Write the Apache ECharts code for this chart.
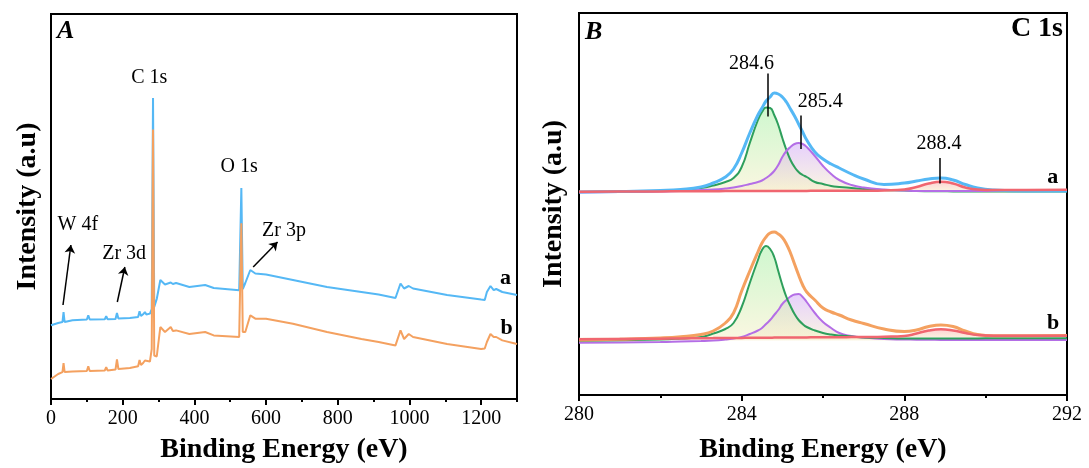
<!DOCTYPE html>
<html>
<head>
<meta charset="utf-8">
<script src="https://cdn.jsdelivr.net/npm/echarts/dist/echarts.min.js"></script>
<style>
  html, body { margin: 0; background: #fff; }
  #chart { width: 1089px; height: 468px; }
</style>
</head>
<body>
<div id="chart"></div>
<script>
// ---- panel A: survey spectra ----
const surveyEnergy = [0, 20, 32, 35, 38, 60, 100, 104, 108, 150, 154, 158, 180, 184, 188,
  220, 243, 247, 251, 257, 262, 266, 276, 281, 284.6, 288, 295, 305, 318, 334, 340, 349,
  386, 430, 454, 525, 531, 535, 542, 556, 570, 600, 675, 770, 866, 914, 961, 975, 985,
  998, 1010, 1105, 1200, 1210, 1216, 1226, 1235, 1242, 1259, 1300];
const surveyA = [73.7, 76, 77, 87, 77, 78.7, 79.5, 83.7, 79.5, 79.7, 82.7, 79.8, 80, 86, 80.5,
  81, 82, 87.7, 83, 84.7, 87, 84.5, 85.4, 90, 301, 92, 100, 119, 114.5, 116.5, 115, 116,
  112, 114, 111, 108.8, 211, 110, 116, 129, 125.5, 124.5, 119, 112, 107, 104.5, 101, 115.5, 110.5,
  113, 110.5, 104, 99.4, 99, 107, 113, 108.8, 110, 107, 104];
const surveyB = [20, 25, 26.8, 35.8, 27, 27.5, 28, 32.8, 28, 28.5, 31.8, 28.5, 29.5, 39.5, 30,
  31, 32.8, 39, 34, 36, 38.5, 36.5, 37.5, 50, 269.5, 43.5, 42.5, 72, 67, 72, 68, 68.6,
  65, 67, 63.6, 62, 175.8, 67, 67, 83.7, 80.3, 80.3, 75.3, 67, 60, 57, 53.6, 68.6, 60,
  65, 62, 55, 50, 50.5, 57, 65, 62, 62, 58.6, 55];

// ---- panel B: C 1s fits ----
const c1sEnergy = [280, 281, 282, 282.5, 283, 283.3, 283.6, 283.8, 284, 284.2, 284.4, 284.5,
  284.6, 284.7, 284.8, 284.9, 285, 285.1, 285.2, 285.3, 285.4, 285.5, 285.6, 285.8, 286,
  286.2, 286.4, 286.7, 287, 287.5, 288, 288.3, 288.6, 288.9, 289.2, 289.5, 289.8, 290.2, 291, 292];
const envA = [203, 203.5, 204.5, 205.5, 208, 212, 218, 226, 242, 262, 280, 287,
  294, 298, 302, 301, 298, 293, 286, 279, 271, 263, 255, 243, 236,
  231, 227, 221, 216, 210.5, 212, 214, 216, 217, 215, 210.5, 207, 205, 204, 204];
const greenA = [203, 203.5, 204, 205, 207, 209.5, 213, 217, 228, 252, 275, 283,
  287.5, 287, 280, 270, 257, 245, 235, 228, 223, 220, 218, 213, 211,
  209, 208, 207, 206, 205, 204.5, 204, 203.8, 203.7, 203.6, 203.5, 203.5, 203.5, 203.5, 203.5];
const purpleA = [202.5, 203, 203.5, 204, 205, 205.5, 206.5, 207.5, 209, 211, 213, 214.5,
  217, 220, 224, 230, 238, 244, 248, 251, 252, 251, 248, 239, 229,
  221, 215, 210, 207.5, 205.5, 204.5, 204, 204, 204, 204, 204, 204, 204, 204, 204];
const redA = [203.3, 203.5, 203.6, 203.7, 203.8, 203.8, 203.9, 203.9, 204, 204, 204, 204,
  204, 204, 204, 204, 204, 204, 204.1, 204.1, 204.1, 204.1, 204.1, 204.2, 204.2,
  204.2, 204.2, 204.2, 204.3, 204.6, 205.5, 208, 211.5, 213.3, 211.5, 207.5, 205.5, 205, 205, 205.2];
const envB = [55, 55.8, 57, 58.2, 60.5, 64, 72, 82, 104, 124, 143, 152,
  158, 162, 163, 161, 157.5, 151, 142, 131, 120, 110, 103, 95, 87,
  83, 80, 75, 71.5, 66, 63.5, 65, 68.5, 70, 68.5, 64, 60.5, 59.3, 59.3, 59.5];
const greenB = [54.3, 54.8, 55.5, 56.5, 58, 61.5, 66, 72, 88, 112, 135, 145,
  149, 146, 138, 124, 110, 98, 89, 81, 75, 71, 68, 64.5, 62,
  60.5, 59.5, 58.5, 57.5, 57, 56.5, 56.5, 56.5, 56.5, 56.6, 56.6, 56.6, 56.7, 56.7, 56.7];
const purpleB = [52.3, 52.6, 53, 53.5, 54, 54.5, 55.5, 56.5, 58, 61, 64.5, 67,
  71, 75, 80, 85, 91, 95, 98.5, 100.5, 101, 98, 93, 82, 73,
  67, 62, 59, 57.5, 56, 55.5, 55.3, 55.2, 55.1, 55, 55, 55, 55, 55, 55];
const redB = [55.7, 56, 56.3, 56.5, 56.8, 56.9, 57, 57, 57.1, 57.2, 57.2, 57.3,
  57.3, 57.3, 57.4, 57.4, 57.4, 57.5, 57.5, 57.5, 57.6, 57.6, 57.6, 57.7, 57.7,
  57.8, 57.8, 57.9, 58, 58.3, 59, 61.5, 64.5, 65.7, 64.5, 62, 60, 59.3, 59.3, 59.3];

const SERIF = '"Liberation Serif", "Times New Roman", serif';
const BLUE = '#55b8f5', ORANGE = '#f4a160';
const GREEN = '#2e9f5c', PURPLE = '#b46ee6', RED = '#f06670';

function pairs(xs, ys) {
  return xs.map((x, i) => [x, ys[i]]);
}

function fade(top) {
  return new echarts.graphic.LinearGradient(0, 0, 0, 1, [
    { offset: 0, color: top },
    { offset: 1, color: 'rgba(248,240,200,0.55)' }
  ]);
}

function note(text, x, y, size, bold) {
  return {
    coord: [x, y], name: text,
    label: { fontSize: size || 20, fontWeight: bold ? 'bold' : 'normal' }
  };
}

const noteStyle = {
  symbol: 'circle', symbolSize: 0, silent: true, animation: false,
  label: { show: true, position: 'inside', formatter: '{b}', color: '#000', fontFamily: SERIF }
};

function fitLine(data, color, width, origin, fill) {
  const s = {
    type: 'line', xAxisIndex: 2, yAxisIndex: 1, data: data,
    showSymbol: false, smooth: 0.5,
    lineStyle: { color: color, width: width }, itemStyle: { color: color }
  };
  if (fill) s.areaStyle = { origin: origin, color: fill, opacity: 1 };
  return s;
}

const chart = echarts.init(document.getElementById('chart'));

const axisName = { fontFamily: SERIF, fontSize: 28, fontWeight: 'bold', color: '#000' };
const tickLabel = { fontFamily: SERIF, fontSize: 20, color: '#000', margin: 10, formatter: v => String(v) };
const blackLine = { show: true, lineStyle: { color: '#000', width: 2 } };

const option = {
  animation: false,
  backgroundColor: '#fff',
  grid: [
    { left: 51, top: 14, width: 466, height: 385, show: true, borderColor: '#000', borderWidth: 2, outerBoundsMode: 'none' },
    { left: 579, top: 13, width: 488, height: 382, show: true, borderColor: '#000', borderWidth: 2, outerBoundsMode: 'none' }
  ],
  xAxis: [
    {
      gridIndex: 0, type: 'value', position: 'bottom', min: 0, max: 1300, interval: 200,
      name: 'Binding Energy (eV)', nameLocation: 'middle', nameGap: 37, nameTextStyle: axisName,
      axisLine: blackLine,
      axisTick: { show: true, length: 6, lineStyle: { color: '#000', width: 2 } },
      axisLabel: Object.assign({ showMaxLabel: false }, tickLabel),
      splitLine: { show: false }
    },
    {
      gridIndex: 0, type: 'value', position: 'bottom', min: 0, max: 1300, interval: 100,
      axisLine: { show: false },
      axisTick: { show: true, length: 3, lineStyle: { color: '#000', width: 2 } },
      axisLabel: { show: false }, splitLine: { show: false }
    },
    {
      gridIndex: 1, type: 'value', position: 'bottom', min: 280, max: 292, interval: 4,
      name: 'Binding Energy (eV)', nameLocation: 'middle', nameGap: 41, nameTextStyle: axisName,
      axisLine: blackLine,
      axisTick: { show: true, length: 6, lineStyle: { color: '#000', width: 2 } },
      minorTick: { show: true, splitNumber: 2, length: 3, lineStyle: { color: '#000', width: 2 } },
      axisLabel: tickLabel,
      splitLine: { show: false }
    }
  ],
  yAxis: [
    {
      gridIndex: 0, type: 'value', min: 0, max: 385,
      name: 'Intensity (a.u)', nameLocation: 'middle', nameRotate: 90, nameGap: 9, nameTextStyle: axisName,
      axisLine: blackLine, axisTick: { show: false }, axisLabel: { show: false }, splitLine: { show: false }
    },
    {
      gridIndex: 1, type: 'value', min: 0, max: 382,
      name: 'Intensity (a.u)', nameLocation: 'middle', nameRotate: 90, nameGap: 11, nameTextStyle: axisName,
      axisLine: blackLine, axisTick: { show: false }, axisLabel: { show: false }, splitLine: { show: false }
    }
  ],
  graphic: [
    { type: 'text', left: 57, top: 18, style: { text: 'A', font: 'italic bold 26px "Liberation Serif"', fill: '#000' } },
    { type: 'text', left: 585, top: 19, style: { text: 'B', font: 'italic bold 26px "Liberation Serif"', fill: '#000' } },
    { type: 'text', right: 26, top: 15, style: { text: 'C 1s', font: 'bold 28px "Liberation Serif"', fill: '#000' } }
  ],
  series: [
    {
      type: 'line', xAxisIndex: 0, yAxisIndex: 0, data: pairs(surveyEnergy, surveyA),
      showSymbol: false, lineStyle: { color: BLUE, width: 2 }, itemStyle: { color: BLUE },
      markPoint: Object.assign({}, noteStyle, {
        data: [
          note('C 1s', 274, 321), note('O 1s', 525, 232), note('W 4f', 75, 174),
          note('Zr 3d', 204, 145), note('Zr 3p', 650, 168),
          note('a', 1268, 121, 22, true), note('b', 1271, 71, 22, true)
        ]
      }),
      markLine: {
        silent: true, animation: false, symbol: ['none', 'arrow'], symbolSize: 8,
        label: { show: false },
        lineStyle: { color: '#000', width: 1.5, type: 'solid' },
        data: [
          [{ coord: [33.5, 94] }, { coord: [55.5, 154] }],
          [{ coord: [185, 97] }, { coord: [206, 132] }],
          [{ coord: [564, 132] }, { coord: [632, 157] }]
        ]
      }
    },
    {
      type: 'line', xAxisIndex: 0, yAxisIndex: 0, data: pairs(surveyEnergy, surveyB),
      showSymbol: false, lineStyle: { color: ORANGE, width: 2 }, itemStyle: { color: ORANGE }
    },

    fitLine(pairs(c1sEnergy, greenA), GREEN, 2, 203.5, fade('rgba(160,240,160,0.5)')),
    fitLine(pairs(c1sEnergy, purpleA), PURPLE, 2, 204, fade('rgba(210,170,250,0.55)')),
    Object.assign(fitLine(pairs(c1sEnergy, envA), BLUE, 3), {
      markPoint: Object.assign({}, noteStyle, {
        data: [
          note('284.6', 284.24, 331), note('285.4', 285.93, 293), note('288.4', 288.85, 251.5),
          note('a', 291.65, 218, 22, true), note('b', 291.66, 72, 22, true)
        ]
      }),
      markLine: {
        silent: true, animation: false, symbol: ['none', 'none'],
        label: { show: false },
        lineStyle: { color: '#000', width: 1.5, type: 'solid' },
        data: [
          [{ coord: [284.65, 321.5] }, { coord: [284.65, 278.5] }],
          [{ coord: [285.46, 279.5] }, { coord: [285.46, 246] }],
          [{ coord: [288.87, 237] }, { coord: [288.87, 211.5] }]
        ]
      }
    }),
    fitLine(pairs(c1sEnergy, redA), RED, 2.5, 204.5, fade('rgba(250,170,170,0.5)')),

    fitLine(pairs(c1sEnergy, purpleB), PURPLE, 2, 54.5, fade('rgba(210,170,250,0.55)')),
    fitLine(pairs(c1sEnergy, greenB), GREEN, 2, 55.5, fade('rgba(160,240,160,0.5)')),
    fitLine(pairs(c1sEnergy, envB), ORANGE, 3),
    fitLine(pairs(c1sEnergy, redB), RED, 2.5, 57.5, fade('rgba(250,170,170,0.5)'))
  ]
};

chart.setOption(option);
</script>
</body>
</html>
